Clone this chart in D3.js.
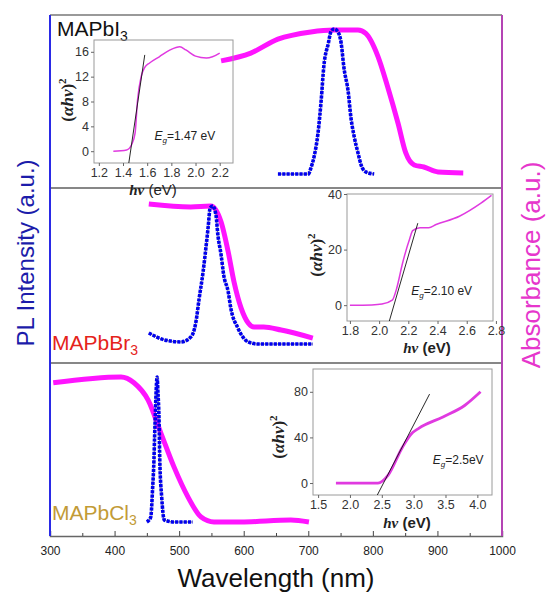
<!DOCTYPE html>
<html lang="en">
<head>
<meta charset="UTF-8">
<title>PL and absorbance of MAPbX3</title>
<script src="https://d3js.org/d3.v7.min.js"></script>
<style>
  body { margin: 0; background: #fff; font-family: Arial, "Liberation Sans", sans-serif; }
  svg { display: block; }
</style>
</head>
<body>
<svg width="547" height="592"></svg>
<script>
// main wavelength axis
const wlTicks = [300, 400, 500, 600, 700, 800, 900, 1000];
const wlMinor = [350, 450, 550, 650, 750, 850, 950];

// [wavelength nm, normalised signal]
const pbI3PL = [[653,0],[700,0],[704,0.04],[709,0.12],[715,0.28],[720,0.51],[724,0.74],[731,0.9],[735,0.98],[740,1],[746,0.98],[751,0.9],[755,0.74],[762,0.56],[766,0.39],[771,0.26],[777,0.145],[782,0.06],[789,0.014],[802,0]];
const pbI3Abs = [[565,0.78],[611,0.834],[653,0.93],[704,0.98],[740,0.993],[777,0.993],[789,0.97],[808,0.81],[823,0.6],[839,0.35],[851,0.145],[864,0.062],[879,0.048],[901,0.014],[940,0.007]];

const pbBr3PL = [[453,0.08],[477,0.03],[503,0.015],[518,0.05],[526,0.16],[531,0.33],[537,0.52],[542,0.72],[545,0.85],[548,0.986],[552,1],[557,0.935],[560,0.79],[565,0.645],[569,0.5],[576,0.377],[580,0.26],[591,0.116],[607,0.015],[622,0],[658,0],[707,0]];
const pbBr3Abs = [[453,1.014],[518,0.993],[549,1],[557,0.971],[565,0.884],[576,0.667],[585,0.449],[596,0.26],[607,0.152],[616,0.123],[631,0.123],[658,0.101],[707,0.043]];

const pbCl3PL = [[450,0],[456,0.034],[459,0.24],[461,0.43],[462,0.59],[463,0.72],[464,0.86],[466,1],[467,0.91],[469,0.68],[470,0.43],[473,0.17],[477,0.014],[492,0],[521,0]];
const pbCl3Abs = [[305,0.96],[410,1],[430,0.96],[452,0.84],[472,0.61],[492,0.38],[514,0.17],[534,0.034],[554,0],[596,0],[673,0.014],[701,0]];

// Tauc plots [hv eV, (ahv)^2]
const tauc1 = [[1.32,0],[1.43,0.2],[1.47,1],[1.5,2.9],[1.52,8.2],[1.55,12],[1.58,13.5],[1.62,14.2],[1.7,15.2],[1.79,16.3],[1.87,16.8],[1.92,16.3],[2.0,15.3],[2.09,15],[2.14,15.2],[2.2,15.8]];
const tangent1 = [[1.448,-1.9],[1.58,15.5]];
const tauc2 = [[1.8,0],[1.95,0.1],[2.02,0.4],[2.09,1.8],[2.12,6],[2.16,15],[2.21,24],[2.23,26.8],[2.28,27.9],[2.34,27.9],[2.39,29],[2.55,32],[2.7,36.8],[2.77,39.5]];
const tangent2 = [[2.07,-5.7],[2.265,29.5]];
const tauc3 = [[1.78,0],[2.44,0],[2.6,7],[2.82,31],[2.98,44],[3.08,48],[3.46,58],[3.8,68],[4.05,80]];
const tangent3 = [[2.43,-10.5],[3.25,78]];

const blue = "#0000ee", magenta = "#ff14ff";
const svg = d3.select("svg");
const plotLeft = 50, plotRight = 502, plotTop = 15, plotBottom = 536;

const x = d3.scaleLinear().domain([300, 1000]).range([plotLeft, plotRight]);

const panels = [
  { pl: pbI3PL, abs: pbI3Abs, base: 174, peak: 29 },
  { pl: pbBr3PL, abs: pbBr3Abs, base: 344, peak: 206 },
  { pl: pbCl3PL, abs: pbCl3Abs, base: 522, peak: 377 }
];

panels.forEach(p => {
  const y = d3.scaleLinear().domain([0, 1]).range([p.base, p.peak]);
  const line = d3.line().x(d => x(d[0])).y(d => y(d[1])).curve(d3.curveMonotoneX);
  svg.append("path").datum(p.abs).attr("d", line)
    .attr("fill", "none").attr("stroke", magenta).attr("stroke-width", 5)
    .attr("stroke-linejoin", "round");
  svg.append("path").datum(p.pl).attr("d", line)
    .attr("fill", "none").attr("stroke", "#555").attr("stroke-width", 0.8);
  svg.append("path").datum(p.pl).attr("d", line)
    .attr("fill", "none").attr("stroke", blue).attr("stroke-width", 3.6)
    .attr("stroke-dasharray", "3.2 1.1");
});

// frame
svg.append("line").attr("x1", plotLeft).attr("x2", plotRight).attr("y1", plotTop).attr("y2", plotTop)
  .attr("stroke", "#777").attr("stroke-width", 1.5);
[188, 363].forEach(yy => svg.append("line").attr("x1", plotLeft).attr("x2", plotRight)
  .attr("y1", yy).attr("y2", yy).attr("stroke", "#111").attr("stroke-width", 1.2));

const xAxis = svg.append("g").attr("transform", `translate(0,${plotBottom})`)
  .call(d3.axisBottom(x).tickValues(wlTicks).tickSize(-5).tickPadding(10).tickFormat(d3.format("d")));
xAxis.select(".domain").attr("stroke", "#666").attr("stroke-width", 1.5);
xAxis.selectAll(".tick line").attr("stroke", "#444");
xAxis.selectAll("text").attr("font-size", 12).attr("fill", "#222").attr("font-family", "Arial, sans-serif");
svg.append("g").attr("transform", `translate(0,${plotBottom})`)
  .call(d3.axisBottom(x).tickValues(wlMinor).tickSize(-3).tickFormat(""))
  .call(g => g.select(".domain").remove())
  .selectAll("line").attr("stroke", "#444");

svg.append("line").attr("x1", plotLeft).attr("x2", plotLeft).attr("y1", plotTop).attr("y2", plotBottom)
  .attr("stroke", "#2a2ae6").attr("stroke-width", 2);
svg.append("line").attr("x1", plotRight).attr("x2", plotRight).attr("y1", plotTop).attr("y2", plotBottom)
  .attr("stroke", "#b444b4").attr("stroke-width", 2);

// axis titles
svg.append("text").attr("x", 276).attr("y", 587).attr("text-anchor", "middle")
  .attr("font-size", 26).attr("fill", "#111").text("Wavelength (nm)");
svg.append("text").attr("transform", "translate(34,253) rotate(-90)").attr("text-anchor", "middle")
  .attr("font-size", 24).attr("fill", "#1c1caa").text("PL Intensity (a.u.)");
svg.append("text").attr("transform", "translate(540,265) rotate(-90)").attr("text-anchor", "middle")
  .attr("font-size", 26).attr("fill", "#e636cc").text("Absorbance (a.u.)");

// sample labels
function sampleLabel(px, py, color, main, halide) {
  const t = svg.append("text").attr("x", px).attr("y", py).attr("font-size", 21).attr("fill", color);
  t.append("tspan").text(main + halide);
  t.append("tspan").attr("font-size", 14).attr("dy", 5).text("3");
}
sampleLabel(57, 36, "#111", "MAPb", "I");
sampleLabel(52, 350, "#e5231b", "MAPb", "Br");
sampleLabel(52, 520, "#c29b36", "MAPb", "Cl");

// insets
const insets = [
  { data: tauc1, tan: tangent1, xd: [1.16, 2.31], xr: [94, 233], yd: [-1.9, 17.9], yr: [163, 40],
    xt: [1.2, 1.4, 1.6, 1.8, 2.0, 2.2], yt: [0, 4, 8, 12, 16], lw: 1.5,
    eg: "1.47 eV", egx: 1.66, egy: 1.8, ylx: 73, yly: 100, xlx: 153, xly: 195, boldEv: false },
  { data: tauc2, tan: tangent2, xd: [1.78, 2.78], xr: [347, 493], yd: [-5.7, 40], yr: [321, 194],
    xt: [1.8, 2.0, 2.2, 2.4, 2.6, 2.8], yt: [0, 20, 40], lw: 1.5,
    eg: "2.10 eV", egx: 2.22, egy: 3.5, ylx: 322, yly: 255, xlx: 427, xly: 353, boldEv: true },
  { data: tauc3, tan: tangent3, xd: [1.42, 4.23], xr: [313, 492], yd: [-10.5, 100], yr: [495, 369],
    xt: [1.5, 2.0, 2.5, 3.0, 3.5, 4.0], yt: [0, 40, 80], lw: 2.8,
    eg: "2.5eV", egx: 3.3, egy: 17, ylx: 284, yly: 437, xlx: 407, xly: 528, boldEv: true }
];

insets.forEach(s => {
  const ix = d3.scaleLinear().domain(s.xd).range(s.xr);
  const iy = d3.scaleLinear().domain(s.yd).range(s.yr);
  const g = svg.append("g");
  g.append("rect").attr("x", s.xr[0]).attr("y", s.yr[1])
    .attr("width", s.xr[1] - s.xr[0]).attr("height", s.yr[0] - s.yr[1])
    .attr("fill", "none").attr("stroke", "#9a9a9a").attr("stroke-width", 1);
  const ax = g.append("g").attr("transform", `translate(0,${s.yr[0]})`)
    .call(d3.axisBottom(ix).tickValues(s.xt).tickSize(3).tickPadding(2).tickFormat(d3.format(".1f")));
  const ay = g.append("g").attr("transform", `translate(${s.xr[0]},0)`)
    .call(d3.axisLeft(iy).tickValues(s.yt).tickSize(3).tickPadding(2).tickFormat(d3.format("d")));
  [ax, ay].forEach(a => {
    a.select(".domain").remove();
    a.selectAll("line").attr("stroke", "#666");
    a.selectAll("text").attr("font-size", 12.5).attr("fill", "#333").attr("font-family", "Arial, sans-serif");
  });
  const line = d3.line().x(d => ix(d[0])).y(d => iy(d[1]));
  g.append("path").datum(s.data).attr("d", line.curve(d3.curveMonotoneX))
    .attr("fill", "none").attr("stroke", "#e03ae0").attr("stroke-width", s.lw);
  g.append("path").datum(s.tan).attr("d", line.curve(d3.curveLinear))
    .attr("fill", "none").attr("stroke", "#111").attr("stroke-width", 0.9);

  const eg = g.append("text").attr("x", ix(s.egx)).attr("y", iy(s.egy))
    .attr("font-size", 12).attr("fill", "#222");
  eg.append("tspan").attr("font-style", "italic").text("E");
  eg.append("tspan").attr("font-size", 8).attr("dy", 3).attr("font-style", "italic").text("g");
  eg.append("tspan").attr("dy", -3).text("=" + s.eg);

  const yl = g.append("text").attr("transform", `translate(${s.ylx},${s.yly}) rotate(-90)`)
    .attr("text-anchor", "middle").attr("font-size", 17).attr("font-weight", "bold")
    .attr("font-family", "'Liberation Serif', 'DejaVu Serif', serif").attr("fill", "#222");
  yl.append("tspan").text("(");
  yl.append("tspan").attr("font-style", "italic").text("αhν");
  yl.append("tspan").text(")");
  yl.append("tspan").attr("font-size", 11).attr("dy", -7).text("2");

  const xl = g.append("text").attr("x", s.xlx).attr("y", s.xly).attr("text-anchor", "middle")
    .attr("font-size", 15).attr("fill", "#222");
  xl.append("tspan").attr("font-family", "'Liberation Serif', serif").attr("font-style", "italic")
    .attr("font-weight", "bold").text("hν");
  xl.append("tspan").attr("font-weight", s.boldEv ? "bold" : "normal").text(" (eV)");
});
</script>
</body>
</html>
